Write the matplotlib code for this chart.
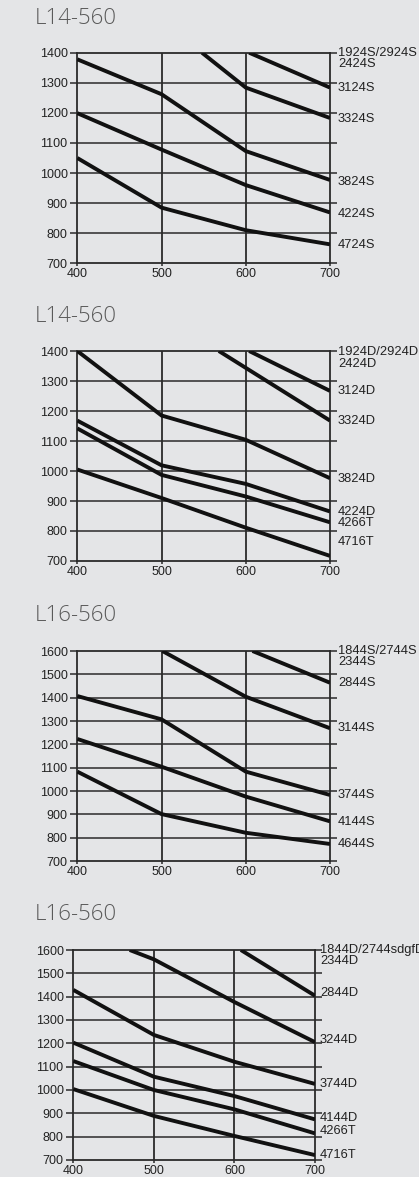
import matplotlib
matplotlib.use("Agg")
import matplotlib.pyplot as plt

# ---------------- data ----------------
x_ticks = [400, 500, 600, 700]

p1_title = "L14-560"
p1_yticks = [700, 800, 900, 1000, 1100, 1200, 1300, 1400]
p1_x = [[604, 700], [548, 600, 700], [400, 500, 600, 700], [400, 500, 600, 700], [400, 500, 600, 700]]
p1_y = [[1400, 1284], [1400, 1284, 1183], [1378, 1262, 1073, 977], [1199, 1078, 960, 869], [1050, 885, 810, 763]]
p1_labels = ["1924S/2924S", "2424S", "3124S", "3324S", "3824S", "4224S", "4724S"]
p1_label_y = [1400, 1362, 1283, 1180, 971, 865, 762]

p2_title = "L14-560"
p2_yticks = [700, 800, 900, 1000, 1100, 1200, 1300, 1400]
p2_x = [[604, 700], [568, 700], [400, 500, 600, 700], [400, 500, 600, 700], [400, 500, 600, 700], [400, 500, 600, 700]]
p2_y = [[1400, 1267], [1400, 1168], [1400, 1185, 1104, 976], [1168, 1019, 957, 865], [1142, 987, 915, 829], [1005, 910, 811, 717]]
p2_labels = ["1924D/2924D", "2424D", "3124D", "3324D", "3824D", "4224D", "4266T", "4716T"]
p2_label_y = [1396, 1357, 1265, 1168, 973, 862, 826, 762]

p3_title = "L16-560"
p3_yticks = [700, 800, 900, 1000, 1100, 1200, 1300, 1400, 1500, 1600]
p3_x = [[608, 700], [501, 600, 700], [400, 500, 600, 700], [400, 500, 600, 700], [400, 500, 600, 700]]
p3_y = [[1600, 1464], [1600, 1404, 1269], [1407, 1307, 1083, 983], [1223, 1104, 976, 870], [1083, 901, 821, 773]]
p3_labels = ["1844S/2744S", "2344S", "2844S", "3144S", "3744S", "4144S", "4644S"]
p3_label_y = [1600, 1554, 1463, 1269, 983, 869, 773]

p4_title = "L16-560"
p4_yticks = [700, 800, 900, 1000, 1100, 1200, 1300, 1400, 1500, 1600]
p4_x = [[608, 700], [470, 500, 600, 700], [400, 500, 600, 700], [400, 500, 600, 700], [400, 500, 600, 700], [400, 500, 600, 700]]
p4_y = [[1600, 1404], [1600, 1560, 1377, 1205], [1429, 1236, 1121, 1026], [1203, 1057, 974, 874], [1124, 1000, 917, 814], [1004, 889, 803, 721]]
p4_labels = ["1844D/2744sdgfD", "2344D", "2844D", "3244D", "3744D", "4144D", "4266T", "4716T"]
p4_label_y = [1600, 1554, 1414, 1214, 1026, 879, 826, 721]

# ---------------- style ----------------
W, H = 419, 1177
BG = "#e4e5e7"
GRID = "#2a2a2a"
TXT = "#222222"
TITLE_C = "#5a5a5a"
FONT = ["Liberation Sans", "DejaVu Sans"]

fig = plt.figure(figsize=(W / 100, H / 100), dpi=100, facecolor=BG)


def panel(box, title, title_y, yticks, xs, ys, labels, label_y, label_dx):
    left, right, top, bottom = box
    ax = fig.add_axes([left / W, 1 - bottom / H, (right - left) / W, (bottom - top) / H])
    ax.set_facecolor(BG)
    ax.set_xlim(x_ticks[0], x_ticks[-1])
    ax.set_ylim(yticks[0], yticks[-1])
    ax.set_xticks(x_ticks)
    ax.set_yticks(yticks)
    ax.set_xticklabels([str(v) for v in x_ticks], fontsize=9, color=TXT, family=FONT)
    ax.set_yticklabels([str(v) for v in yticks], fontsize=9, color=TXT, family=FONT)
    ax.tick_params(axis="y", which="both", direction="out", length=5, width=1.1,
                   color=GRID, pad=2, left=True, right=True, labelright=False)
    ax.tick_params(axis="x", length=2, width=1.1, color=GRID, pad=1.5)
    for s in ax.spines.values():
        s.set_color(GRID)
        s.set_linewidth(1.3)
    for v in yticks[1:-1]:
        ax.axhline(v, color=GRID, lw=1.1, zorder=1)
    for v in x_ticks[1:-1]:
        ax.axvline(v, color=GRID, lw=1.3, zorder=1)
    for xv, yv in zip(xs, ys):
        ax.plot(xv, yv, color="#111111", lw=2.8, solid_capstyle="butt",
                solid_joinstyle="miter", zorder=3, clip_on=True)
    for lab, ly in zip(labels, label_y):
        ax.annotate(lab, xy=(x_ticks[-1], ly), xytext=(label_dx, 0),
                    textcoords="offset pixels", ha="left", va="center",
                    fontsize=9.3, color=TXT, family=FONT, annotation_clip=False)
    fig.text(35 / W, 1 - title_y / H, title, ha="left", va="center",
             fontsize=16, color=TITLE_C, family=["Open Sans", "DejaVu Sans"],
             fontweight="light")
    return ax


panel((77.3, 330, 52.7, 263.3), p1_title, 18.5, p1_yticks, p1_x, p1_y, p1_labels, p1_label_y, 8)
panel((77.3, 330, 351, 561), p2_title, 316.7, p2_yticks, p2_x, p2_y, p2_labels, p2_label_y, 8)
panel((77.3, 330, 651, 861), p3_title, 616, p3_yticks, p3_x, p3_y, p3_labels, p3_label_y, 8)
panel((73.3, 315, 950, 1160), p4_title, 914, p4_yticks, p4_x, p4_y, p4_labels, p4_label_y, 5)

fig.savefig("out.png", dpi=100, facecolor=BG)
